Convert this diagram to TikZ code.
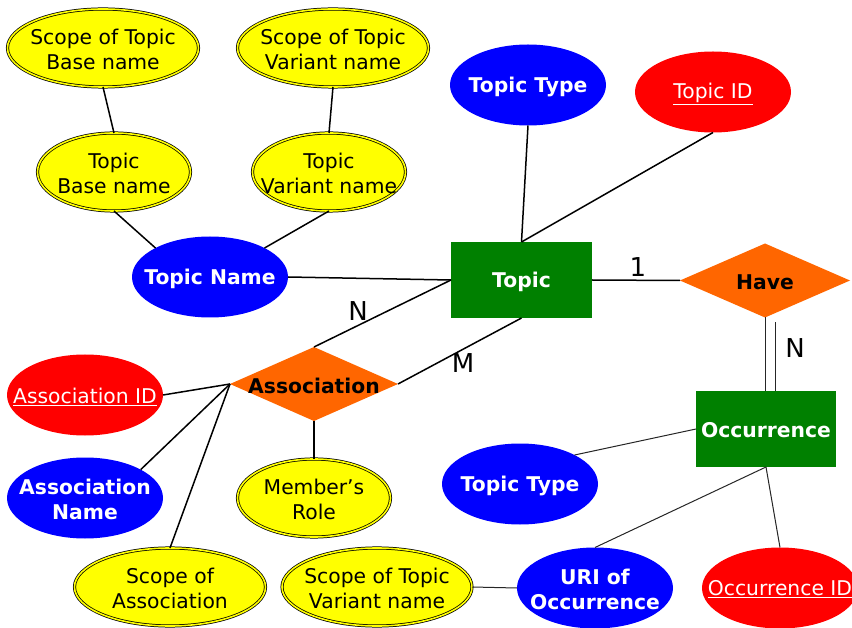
\documentclass[tikz,border=0pt]{standalone}
\usepackage{fontspec}
\setmainfont{DejaVu Sans}
\usetikzlibrary{shapes.geometric}
\definecolor{entgreen}{HTML}{008000}
\definecolor{relorange}{HTML}{FF6600}
\definecolor{attrblue}{HTML}{0000FF}
\definecolor{keyred}{HTML}{FF0000}
\definecolor{multiyellow}{HTML}{FFFF00}
\newcommand{\keytext}[1]{\underline{#1}}
\begin{document}
\begin{tikzpicture}[x=1pt,y=-1pt,
  every node/.style={inner sep=0pt, outer sep=0pt},
  basetxt/.style={font=\fontsize{20.3}{25.5}\selectfont, align=center, yshift=-1.5pt},
  ytxt/.style={basetxt, text=black},
  btxt/.style={basetxt, text=white, font=\fontsize{20.3}{25.5}\selectfont\bfseries},
  rtxt/.style={basetxt, text=white},
  gtxt/.style={basetxt, text=white, font=\fontsize{20.3}{25.5}\selectfont\bfseries},
  otxt/.style={basetxt, text=black, font=\fontsize{20.3}{25.5}\selectfont\bfseries},
  card/.style={font=\fontsize{26}{30}\selectfont, text=black},
  yattr/.style={ellipse, fill=multiyellow, draw=black, double=multiyellow,
    double distance=1.6pt, line width=0.75pt, minimum width=153pt, minimum height=78pt},
  battr/.style={ellipse, fill=attrblue, minimum width=156pt, minimum height=81pt},
  rkey/.style={ellipse, fill=keyred, minimum width=156pt, minimum height=81pt},
  entity/.style={rectangle, fill=entgreen, minimum width=141pt, minimum height=76pt},
  rel/.style={diamond, fill=relorange, minimum width=170pt, minimum height=74pt},
  link/.style={draw=black, line width=1.5pt},
  thinlink/.style={draw=black!85, line width=1pt},
]
\useasboundingbox[fill=white] (0,0) rectangle (852,628);

% ---- topic name branch ----
\node[yattr, minimum width=191pt, label={[ytxt]center:Scope of Topic\\Base name}] (sbn) at (103,48) {};
\node[yattr, minimum width=191pt, label={[ytxt]center:Scope of Topic\\Variant name}] (svn) at (333,48) {};
\node[yattr, label={[ytxt]center:Topic\\Base name}] (tbn) at (114,172) {};
\node[yattr, label={[ytxt]center:Topic\\Variant name}] (tvn) at (329,172) {};
\node[battr, label={[btxt]center:Topic Name}] (tname) at (210,277) {};

% ---- topic ----
\node[battr, label={[btxt]center:Topic Type}] (ttype) at (528,85) {};
\node[rkey, label={[rtxt]center:\keytext{Topic ID}}] (tid) at (713,92) {};
\node[entity, label={[gtxt]center:Topic}] (topic) at (521.5,280) {};
\node[rel, label={[otxt]center:Have}] (have) at (765,280.5) {};

% ---- occurrence ----
\node[entity, minimum width=140pt, label={[gtxt]center:Occurrence}] (occ) at (766,429) {};
\node[battr, label={[btxt]center:Topic Type}] (otype) at (520,484) {};
\node[battr, label={[btxt]center:URI of\\Occurrence}] (uri) at (595,588) {};
\node[rkey, label={[rtxt]center:\keytext{Occurrence ID}}] (oid) at (780,588) {};
\node[yattr, minimum width=190pt, label={[ytxt]center:Scope of Topic\\Variant name}] (svn2) at (377,587) {};

% ---- association ----
\node[rel, minimum width=168pt, label={[otxt]center:Association}] (assoc) at (314,384) {};
\node[rkey, label={[rtxt]center:\keytext{Association ID}}] (aid) at (85,395) {};
\node[battr, label={[btxt]center:Association\\Name}] (aname) at (85,498) {};
\node[yattr, label={[ytxt]center:Member’s\\Role}] (role) at (314,498) {};
\node[yattr, minimum width=191pt, label={[ytxt]center:Scope of\\Association}] (sassoc) at (170,587) {};

% ---- connectors ----
\draw[link] (sbn.south) -- (tbn.north);
\draw[link] (svn.south) -- (tvn.north);
\draw[link] (tbn.south) -- (tname.152);
\draw[link] (tvn.south) -- (tname.28);
\draw[link] (tname.east) -- (topic.west);
\draw[link] (ttype.south) -- (topic.north);
\draw[link] (tid.south) -- (topic.north);
\draw[link] (topic.east) -- (have.west);
\draw[link] (assoc.north) -- (topic.west);
\draw[link] (assoc.east) -- (topic.south);
\draw[link] (aid.east) -- (assoc.west);
\draw[link] (aname.27) -- (assoc.west);
\draw[link] (sassoc.north) -- (assoc.west);
\draw[link] (assoc.south) -- (role.north);

% total participation: double line from Have to Occurrence
\draw[thinlink] (have.south) -- (have.south |- occ.north);
\draw[thinlink] ([shift={(10.5,5)}]have.south) -- ([xshift=10.5pt]have.south |- occ.north);

\draw[thinlink] (occ.west) -- (otype.28);
\draw[thinlink] (occ.south) -- (uri.north);
\draw[thinlink] (occ.south) -- (oid.north);
\draw[thinlink] (uri.west) -- (svn2.east);

% ---- cardinalities ----
\node[card] (c1) at (638,267) {1};
\node[card] (cn1) at (358,311) {N};
\node[card] (cm) at (463,363) {M};
\node[card] (cn2) at (795,348) {N};
\end{tikzpicture}
\end{document}
